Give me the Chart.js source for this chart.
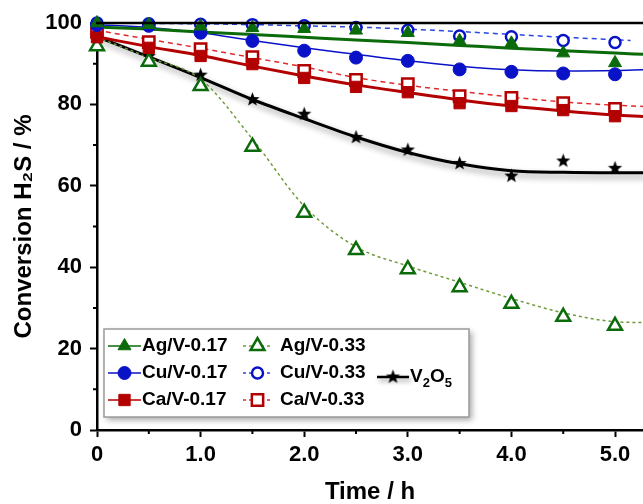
<!DOCTYPE html>
<html>
<head>
<meta charset="utf-8">
<script src="https://cdn.jsdelivr.net/npm/chart.js@4.4.1/dist/chart.umd.min.js"></script>
<style>
  html, body { margin: 0; padding: 0; background: #fff; }
  #c { display: block; }
</style>
</head>
<body>
<canvas id="c" width="643" height="504"></canvas>
<script>
// measured points, time in h
const time = [0, 0.5, 1, 1.5, 2, 2.5, 3, 3.5, 4, 4.5, 5];
const ag17 = [100, 99.6, 99.2, 98.8, 98.6, 98.2, 97.6, 95.6, 95.0, 92.6, 90.2];
const ag33 = [94.3, 90.5, 84.5, 69.6, 53.4, 44.2, 39.5, 35.1, 31.0, 27.8, 25.6];
const cu17 = [99.5, 99.3, 97.6, 95.6, 93.2, 91.5, 90.7, 88.6, 88.0, 87.6, 87.4];
const cu33 = [100, 99.8, 99.7, 99.6, 99.3, 98.9, 98.2, 96.8, 96.6, 95.7, 95.2];
const ca17 = [96.5, 93.9, 91.9, 89.9, 86.5, 84.3, 83.0, 80.3, 79.6, 78.6, 77.1];
const ca33 = [97.8, 95.3, 93.6, 91.6, 88.2, 86.0, 85.0, 82.0, 81.6, 80.3, 78.9];
const v2o5 = [96.8, 91.8, 87.2, 81.2, 77.6, 71.9, 68.8, 65.5, 62.4, 66.1, 64.3];

// fitted curves
const fitTime = [0, 0.5, 1, 1.5, 2, 2.5, 3, 3.5, 4, 4.5, 5, 5.27];
const fitCuTime = [0, 0.5, 1, 1.5, 2, 2.5, 3, 3.5, 4, 4.5, 5, 5.15];
const ag17Fit = [99.0, 98.5, 97.8, 97.2, 96.5, 95.8, 95.2, 94.5, 93.8, 93.2, 92.6, 92.3];
const ag33Fit = [96.5, 91.5, 86.2, 71.5, 55.0, 45.0, 40.3, 36.3, 32.3, 28.8, 26.6, 26.4];
const cu17Fit = [99.6, 98.9, 97.6, 95.7, 93.9, 92.3, 90.7, 89.4, 88.5, 88.2, 88.3, 88.5];
const cu33Fit = [100, 99.9, 99.8, 99.6, 99.3, 99.0, 98.5, 97.9, 97.2, 96.5, 95.9, 95.7];
const ca17Fit = [96.6, 94.2, 92.0, 89.4, 87.0, 84.8, 82.9, 81.1, 79.6, 78.4, 77.4, 77.0];
const ca33Fit = [98.2, 96.0, 93.8, 91.5, 89.2, 86.6, 84.7, 83.2, 81.8, 80.6, 79.8, 79.5];
const v2o5Fit = [96.6, 91.7, 86.6, 81.2, 76.5, 72.0, 68.2, 65.4, 63.7, 63.3, 63.2, 63.2];

const xTicks = [0, 1, 2, 3, 4, 5];
const yTicks = [0, 20, 40, 60, 80, 100];

const GREEN = '#0b6b0b', BLUE = '#0a12c8', RED = '#b30000';
const FONT = "'Liberation Sans', Arial, Helvetica, sans-serif";

function pts(xs, ys) { return ys.map((y, i) => ({ x: xs[i], y: y })); }

function starCanvas(r) {
  const c = document.createElement('canvas');
  const s = Math.ceil(r * 2 + 2);
  c.width = s; c.height = s;
  const g = c.getContext('2d');
  g.beginPath();
  for (let i = 0; i < 10; i++) {
    const a = -Math.PI / 2 + i * Math.PI / 5;
    const rr = i % 2 ? r * 0.42 : r;
    g.lineTo(s / 2 + rr * Math.cos(a), s / 2 + rr * Math.sin(a));
  }
  g.closePath();
  g.fillStyle = '#000';
  g.fill();
  return c;
}
const star = starCanvas(7.5);

function markers(label, ys, style, r, fill, stroke, bw, order) {
  return {
    label: label, data: pts(time, ys), showLine: false, clip: false, order: order,
    pointStyle: style, pointRadius: r, pointHoverRadius: r,
    pointBackgroundColor: fill, pointBorderColor: stroke, pointBorderWidth: bw
  };
}
function fitLine(xs, ys, color, w, dash, order, extra) {
  return Object.assign({
    label: '', data: pts(xs, ys), showLine: true, clip: false, order: order,
    borderColor: color, borderWidth: w, borderDash: dash, pointRadius: 0,
    cubicInterpolationMode: 'monotone', fill: false
  }, extra || {});
}

const datasets = [
  markers('Ag/V-0.17', ag17, 'triangle', 7.5, GREEN, GREEN, 1, 1),
  markers('Cu/V-0.33', cu33, 'circle', 5.5, '#fff', BLUE, 2.5, 3),
  markers('Cu/V-0.17', cu17, 'circle', 6.5, BLUE, BLUE, 1, 2),
  markers('Ca/V-0.17', ca17, 'rect', 8, RED, RED, 1, 4),
  markers('Ca/V-0.33', ca33, 'rect', 8, '#fff', RED, 2.5, 5),
  markers('Ag/V-0.33', ag33, 'triangle', 8, '#fff', GREEN, 2.5, 6),
  markers('V2O5', v2o5, star, 7.5, '#000', '#000', 0, 7),
  fitLine(fitTime, ag17Fit, GREEN, 3, [], 10),
  fitLine(fitCuTime, cu33Fit, '#2a48e0', 1.5, [5, 4], 11),
  fitLine(fitTime, cu17Fit, BLUE, 1.5, [], 12),
  fitLine(fitTime, ca33Fit, '#e02a2a', 1.5, [5, 4], 13),
  fitLine(fitTime, ca17Fit, RED, 3, [], 14),
  fitLine(fitTime, ag33Fit, '#6f9a3c', 1.5, [3, 3], 15),
  fitLine(fitTime, v2o5Fit, '#000', 3, [], 16, { shadow: true })
];

// gray drop shadow under the V2O5 curve
const shadowPlugin = {
  id: 'shadow',
  beforeDatasetDraw(chart, args) {
    if (!args.meta._dataset.shadow) return;
    const ctx = chart.ctx;
    ctx.save();
    ctx.shadowColor = 'rgba(0,0,0,0.4)';
    ctx.shadowBlur = 6;
    ctx.shadowOffsetX = 3;
    ctx.shadowOffsetY = 4;
  },
  afterDatasetDraw(chart, args) {
    if (!args.meta._dataset.shadow) return;
    chart.ctx.restore();
  }
};

// top frame line and minor ticks
const framePlugin = {
  id: 'frame',
  afterDraw(chart) {
    const ctx = chart.ctx, a = chart.chartArea;
    const xs = chart.scales.x, ys = chart.scales.y;
    ctx.save();
    ctx.strokeStyle = '#000';
    ctx.lineWidth = 2.5;
    ctx.beginPath();
    ctx.moveTo(a.left - 1, a.top);
    ctx.lineTo(a.right, a.top);
    ctx.stroke();
    ctx.lineWidth = 2;
    ctx.beginPath();
    for (let v = 0.5; v < xs.max; v += 1) {
      const px = xs.getPixelForValue(v);
      ctx.moveTo(px, a.bottom);
      ctx.lineTo(px, a.bottom + 4);
    }
    for (let v = 10; v < 100; v += 20) {
      const py = ys.getPixelForValue(v);
      ctx.moveTo(a.left, py);
      ctx.lineTo(a.left - 4, py);
    }
    ctx.stroke();
    ctx.restore();
  }
};

function drawMarker(ctx, ds, x, y) {
  const r = ds.pointRadius, st = ds.pointStyle;
  ctx.fillStyle = ds.pointBackgroundColor;
  ctx.strokeStyle = ds.pointBorderColor;
  ctx.lineWidth = ds.pointBorderWidth;
  if (typeof st !== 'string') {
    ctx.drawImage(st, x - st.width / 2, y - st.height / 2);
    return;
  }
  ctx.beginPath();
  if (st === 'circle') {
    ctx.arc(x, y, r, 0, Math.PI * 2);
  } else if (st === 'rect') {
    const s = r * Math.SQRT1_2;
    ctx.rect(x - s, y - s, 2 * s, 2 * s);
  } else {
    for (let i = 0; i < 3; i++) {
      const a = i * 2 * Math.PI / 3;
      ctx.lineTo(x + Math.sin(a) * r, y - Math.cos(a) * r);
    }
    ctx.closePath();
  }
  ctx.fill();
  if (ds.pointBorderWidth > 0) ctx.stroke();
}

// boxed legend: 3 columns
const legendPlugin = {
  id: 'boxLegend',
  afterDraw(chart) {
    const ctx = chart.ctx;
    const ds = chart.data.datasets;
    const items = [
      { m: 0, f: 7, col: 0, y: 346, text: 'Ag/V-0.17' },
      { m: 2, f: 9, col: 0, y: 373, text: 'Cu/V-0.17' },
      { m: 3, f: 11, col: 0, y: 400, text: 'Ca/V-0.17' },
      { m: 5, f: 12, col: 1, y: 346, text: 'Ag/V-0.33' },
      { m: 1, f: 8, col: 1, y: 373, text: 'Cu/V-0.33' },
      { m: 4, f: 10, col: 1, y: 400, text: 'Ca/V-0.33' },
      { m: 6, f: 13, col: 2, y: 377, text: 'V2O5' }
    ];
    const cols = [{ x0: 108, x1: 141, tx: 142 }, { x0: 243, x1: 272, tx: 280 }, { x0: 377, x1: 409, tx: 410 }];
    ctx.save();
    ctx.shadowColor = 'rgba(0,0,0,0.35)';
    ctx.shadowBlur = 6;
    ctx.shadowOffsetX = 3;
    ctx.shadowOffsetY = 3;
    ctx.fillStyle = '#fff';
    ctx.fillRect(104, 329, 365, 88);
    ctx.shadowColor = 'transparent';
    ctx.strokeStyle = '#9a9a9a';
    ctx.lineWidth = 1.5;
    ctx.strokeRect(104, 329, 365, 88);
    items.forEach(it => {
      const c = cols[it.col];
      const fd = ds[it.f], md = ds[it.m];
      ctx.save();
      if (fd.shadow) {
        ctx.shadowColor = 'rgba(0,0,0,0.4)';
        ctx.shadowBlur = 5;
        ctx.shadowOffsetX = 2;
        ctx.shadowOffsetY = 3;
      }
      ctx.strokeStyle = fd.borderColor;
      ctx.lineWidth = fd.shadow ? 2.5 : 1.5;
      ctx.setLineDash(fd.borderDash.length ? [3, 3] : []);
      ctx.beginPath();
      ctx.moveTo(c.x0, it.y);
      ctx.lineTo(c.x1, it.y);
      ctx.stroke();
      ctx.restore();
      drawMarker(ctx, md, (c.x0 + c.x1) / 2, it.y);
      ctx.fillStyle = '#000';
      ctx.textBaseline = 'middle';
      ctx.textAlign = 'left';
      if (it.text === 'V2O5') {
        let x = c.tx;
        const parts = [['V', 0], ['2', 1], ['O', 0], ['5', 1]];
        parts.forEach(p => {
          ctx.font = p[1] ? 'bold 13px ' + FONT : 'bold 19px ' + FONT;
          ctx.fillText(p[0], x, it.y + (p[1] ? 6 : 0));
          x += ctx.measureText(p[0]).width;
        });
      } else {
        ctx.font = 'bold 19px ' + FONT;
        ctx.fillText(it.text, c.tx, it.y);
      }
    });
    ctx.restore();
  }
};

new Chart(document.getElementById('c'), {
  type: 'scatter',
  data: { datasets: datasets },
  options: {
    responsive: false,
    animation: false,
    devicePixelRatio: 1,
    layout: { autoPadding: false, padding: { top: 23, right: 0, bottom: 0, left: 0 } },
    plugins: { legend: { display: false }, tooltip: { enabled: false } },
    scales: {
      x: {
        type: 'linear', min: 0, max: 5.27,
        afterFit(s) { s.height = 74; },
        afterBuildTicks(s) { s.ticks = xTicks.map(v => ({ value: v })); },
        ticks: {
          includeBounds: false, padding: 5, color: '#000',
          font: { family: FONT, size: 22, weight: 'bold' },
          callback: v => v === 0 ? '0' : v.toFixed(1)
        },
        grid: { drawOnChartArea: false, tickLength: 7, tickWidth: 2, tickColor: '#000' },
        border: { display: true, color: '#000', width: 2.5 },
        title: {
          display: true, text: 'Time / h', color: '#000',
          font: { family: FONT, size: 24, weight: 'bold', lineHeight: 1 },
          padding: { top: 0, bottom: 0 }
        }
      },
      y: {
        type: 'linear', min: 0, max: 100,
        afterFit(s) { s.width = 97; },
        afterBuildTicks(s) { s.ticks = yTicks.map(v => ({ value: v })); },
        ticks: {
          padding: 8, color: '#000',
          font: { family: FONT, size: 22, weight: 'bold' }
        },
        grid: { drawOnChartArea: false, tickLength: 7, tickWidth: 2, tickColor: '#000' },
        border: { display: true, color: '#000', width: 2.5 },
        title: {
          display: true, text: 'Conversion H\u2082S / %', color: '#000',
          font: { family: FONT, size: 24, weight: 'bold', lineHeight: 1 },
          padding: { top: 12, bottom: 0 }
        }
      }
    }
  },
  plugins: [shadowPlugin, framePlugin, legendPlugin]
});
</script>
</body>
</html>
